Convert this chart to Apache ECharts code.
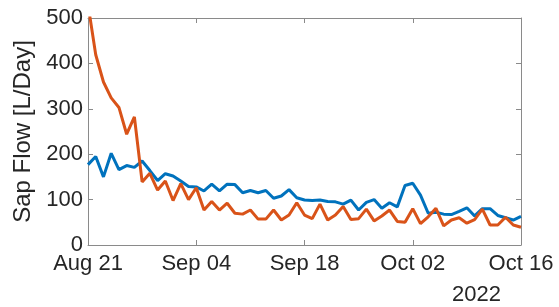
<!DOCTYPE html>
<html>
<head>
<meta charset="utf-8">
<script src="https://cdn.jsdelivr.net/npm/echarts@6/dist/echarts.min.js"></script>
<style>
html,body{margin:0;padding:0;background:#fff;}
#c{width:559px;height:307px;}
</style>
</head>
<body>
<div id="c"></div>
<script>
// Daily dates Aug 21 .. Oct 16, 2022
const startDate = '2022-08-21';
const numDays = 57;
const tickLabels = ['Aug 21', 'Sep 04', 'Sep 18', 'Oct 02', 'Oct 16'];
const yearLabel = '2022';
const yTicks = [0, 100, 200, 300, 400, 500];

const blueValues = [177, 195, 150, 202, 166, 175, 171, 185, 164, 142,
  157, 152, 141, 129, 128, 119, 134, 119, 134, 133,
  115, 120, 115, 120, 103, 108, 122, 104, 99, 98,
  99, 96, 95, 90, 99, 77, 94, 100, 81, 93,
  84, 131, 136, 110, 70, 72, 68, 67, 74, 82,
  64, 80, 80, 65, 60, 55, 63];

const orangeValues = [530, 419, 359, 324, 303, 244, 282, 139, 158, 121,
  141, 98, 135, 100, 126, 77, 96, 77, 92, 70,
  68, 77, 57, 57, 77, 55, 66, 93, 66, 58,
  90, 55, 66, 85, 56, 58, 79, 53, 64, 77,
  52, 50, 80, 47, 62, 81, 42, 55, 60, 48,
  56, 79, 44, 44, 61, 44, 39];

const months = ['Jan','Feb','Mar','Apr','May','Jun','Jul','Aug','Sep','Oct','Nov','Dec'];
const categories = [];
(function(){
  const d0 = new Date(startDate + 'T00:00:00Z');
  for (let i = 0; i < numDays; i++) {
    const d = new Date(d0.getTime() + i * 86400000);
    const dd = String(d.getUTCDate()).padStart(2, '0');
    categories.push(months[d.getUTCMonth()] + ' ' + dd);
  }
})();

const FONT = 'Liberation Sans, Arial, Helvetica, sans-serif';
const TXT = '#262626';
const AX = '#8a8a8a';

const chart = echarts.init(document.getElementById('c'), null, {renderer: 'canvas'});
chart.setOption({
  animation: false,
  backgroundColor: '#ffffff',
  grid: {left: 88, right: 38, top: 18, bottom: 62, containLabel: false},
  xAxis: [{
    type: 'category',
    data: categories,
    boundaryGap: false,
    position: 'bottom',
    axisLine: {show: true, lineStyle: {color: AX, width: 1}},
    axisTick: {show: true, inside: true, length: 5, interval: 13, lineStyle: {color: AX}},
    axisLabel: {
      show: true, interval: 13, color: TXT, fontFamily: FONT, fontSize: 22, margin: 8,
      formatter: function (v) { return tickLabels.indexOf(v) >= 0 ? v : ''; }
    },
    splitLine: {show: false}
  }, {
    type: 'category',
    data: categories,
    boundaryGap: false,
    position: 'top',
    axisLine: {show: true, onZero: false, lineStyle: {color: AX, width: 1}},
    axisTick: {show: true, inside: true, length: 5, interval: 13, lineStyle: {color: AX}},
    axisLabel: {show: false},
    splitLine: {show: false}
  }],
  yAxis: [{
    type: 'value',
    min: 0, max: 500, interval: 100,
    position: 'left',
    name: 'Sap Flow [L/Day]',
    nameLocation: 'middle',
    nameGap: 52,
    nameTextStyle: {color: TXT, fontFamily: FONT, fontSize: 24},
    axisLine: {show: true, lineStyle: {color: AX, width: 1}},
    axisTick: {show: true, inside: true, length: 5, lineStyle: {color: AX}},
    axisLabel: {color: TXT, fontFamily: FONT, fontSize: 22, margin: 5},
    splitLine: {show: false}
  }, {
    type: 'value',
    min: 0, max: 500, interval: 100,
    position: 'right',
    axisLine: {show: true, onZero: false, lineStyle: {color: AX, width: 1}},
    axisTick: {show: true, inside: true, length: 5, lineStyle: {color: AX}},
    axisLabel: {show: false},
    splitLine: {show: false}
  }],
  graphic: [{
    type: 'text',
    left: 452, top: 284,
    style: {text: yearLabel, fill: TXT, font: '22px ' + FONT}
  }],
  series: [{
    name: 'Blue',
    type: 'line',
    data: blueValues,
    xAxisIndex: 0, yAxisIndex: 0,
    showSymbol: false,
    clip: true,
    lineStyle: {color: '#0072BD', width: 3},
    itemStyle: {color: '#0072BD'},
    z: 3
  }, {
    name: 'Orange',
    type: 'line',
    data: orangeValues,
    xAxisIndex: 0, yAxisIndex: 0,
    showSymbol: false,
    clip: true,
    lineStyle: {color: '#D95319', width: 3},
    itemStyle: {color: '#D95319'},
    z: 4
  }]
});
</script>
</body>
</html>
